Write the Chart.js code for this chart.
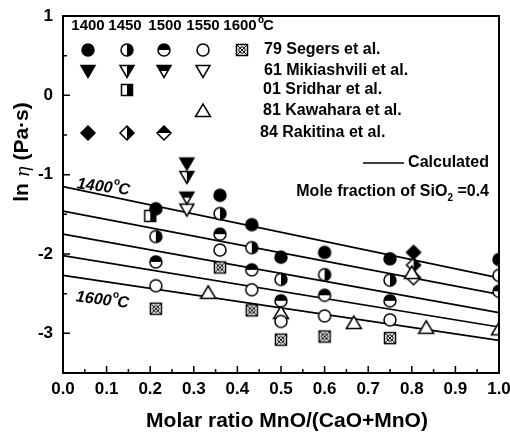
<!DOCTYPE html>
<html>
<head>
<meta charset="utf-8">
<script src="https://cdn.jsdelivr.net/npm/chart.js@4.4.0/dist/chart.umd.min.js"></script>
<style>
html, body { margin: 0; padding: 0; background: #fff; }
#wrap { width: 510px; height: 434px; }
</style>
</head>
<body>
<div id="wrap"><canvas id="c" width="510" height="434"></canvas></div>
<script>
// data (ln viscosity vs MnO/(CaO+MnO))
const segersX = [0.213, 0.36, 0.433, 0.5, 0.6, 0.75, 1.0];
const segers1400 = [-1.43, -1.26, -1.63, -2.04, -1.98, -2.06, -2.07];
const segers1450 = [-1.78, -1.49, -1.92, -2.32, -2.26, -2.33, -2.27];
const segers1500 = [-2.10, -1.75, -2.20, -2.59, -2.52, -2.59, -2.47];
const segersX2 = [0.213, 0.36, 0.433, 0.5, 0.6, 0.75];
const segers1550 = [-2.40, -1.95, -2.45, -2.85, -2.78, -2.83];
const segers1600 = [-2.69, -2.17, -2.71, -3.08, -3.04, -3.06];

const mikiX = [0.284];
const miki1400 = [-0.86];
const miki1450 = [-1.03];
const miki1500 = [-1.29];
const miki1550 = [-1.44];

const sridharX = [0.2];
const sridhar1450 = [-1.52];

const kawaharaX = [0.333, 0.5, 0.667, 0.8, 0.833, 1.0];
const kawahara1550 = [-2.49, -2.745, -2.87, -2.24, -2.93, -2.95];

const rakitinaX = [0.804];
const rakitina1400 = [-1.98];
const rakitina1450 = [-2.14];
const rakitina1500 = [-2.30];

// calculated lines, 1400..1600 C
const calcX = [0, 1];
const calcLines = [
  [-1.15, -2.30],
  [-1.46, -2.51],
  [-1.75, -2.74],
  [-2.02, -2.92],
  [-2.27, -3.09]
];

const yTicks = [1, 0, -1, -2, -3];

const FONT = '"Liberation Sans", Arial, sans-serif';

function marker(shape, fill) {
  const s = 18, m = 9;
  const c = document.createElement('canvas');
  c.width = s; c.height = s;
  const g = c.getContext('2d');
  g.lineWidth = 1.5;
  g.strokeStyle = '#000';
  g.beginPath();
  if (shape === 'circle') g.arc(m, m, 6, 0, Math.PI * 2);
  else if (shape === 'triDown') { g.moveTo(m - 7, m - 5.5); g.lineTo(m + 7, m - 5.5); g.lineTo(m, m + 6.5); g.closePath(); }
  else if (shape === 'triUp') { g.moveTo(m - 7.5, m + 5.5); g.lineTo(m + 7.5, m + 5.5); g.lineTo(m, m - 7); g.closePath(); }
  else if (shape === 'square' || shape === 'xsquare') g.rect(m - 5.5, m - 5.5, 11, 11);
  else if (shape === 'diamond') { g.moveTo(m, m - 7); g.lineTo(m + 7, m); g.lineTo(m, m + 7); g.lineTo(m - 7, m); g.closePath(); }
  g.fillStyle = fill === 'full' ? '#000' : '#fff';
  g.fill();
  if (fill === 'right' || fill === 'top') {
    g.save();
    g.clip();
    g.fillStyle = '#000';
    if (fill === 'right') g.fillRect(m, 0, s, s);
    else g.fillRect(0, 0, s, m);
    g.restore();
  }
  g.stroke();
  if (shape === 'xsquare') {
    g.lineWidth = 1;
    g.beginPath();
    g.moveTo(m - 5.5, m - 5.5); g.lineTo(m + 5.5, m + 5.5);
    g.moveTo(m + 5.5, m - 5.5); g.lineTo(m - 5.5, m + 5.5);
    g.stroke();
    g.beginPath();
    g.arc(m, m, 3.2, 0, Math.PI * 2);
    g.stroke();
  }
  return c;
}

const mk = {
  c1400: marker('circle', 'full'), c1450: marker('circle', 'right'), c1500: marker('circle', 'top'),
  c1550: marker('circle', 'none'), c1600: marker('xsquare', 'none'),
  t1400: marker('triDown', 'full'), t1450: marker('triDown', 'right'), t1500: marker('triDown', 'top'),
  t1550: marker('triDown', 'none'),
  s1450: marker('square', 'right'),
  k1550: marker('triUp', 'none'),
  d1400: marker('diamond', 'full'), d1450: marker('diamond', 'right'), d1500: marker('diamond', 'top')
};

const pts = (xs, ys) => xs.map((x, i) => ({ x: x, y: ys[i] }));

function pointSet(xs, ys, img) {
  return { type: 'scatter', data: pts(xs, ys), pointStyle: img, pointRadius: 7, order: 0 };
}

const datasets = [];
calcLines.forEach(l => {
  datasets.push({
    type: 'line', data: pts(calcX, l), borderColor: '#000', borderWidth: 1.7,
    pointRadius: 0, fill: false, tension: 0, order: 1
  });
});
datasets.push(pointSet(segersX, segers1400, mk.c1400));
datasets.push(pointSet(segersX, segers1450, mk.c1450));
datasets.push(pointSet(segersX, segers1500, mk.c1500));
datasets.push(pointSet(segersX2, segers1550, mk.c1550));
datasets.push(pointSet(segersX2, segers1600, mk.c1600));
datasets.push(pointSet(mikiX, miki1400, mk.t1400));
datasets.push(pointSet(mikiX, miki1450, mk.t1450));
datasets.push(pointSet(mikiX, miki1500, mk.t1500));
datasets.push(pointSet(mikiX, miki1550, mk.t1550));
datasets.push(pointSet(sridharX, sridhar1450, mk.s1450));
datasets.push(pointSet(kawaharaX, kawahara1550, mk.k1550));
datasets.push(pointSet(rakitinaX, rakitina1400, mk.d1400));
datasets.push(pointSet(rakitinaX, rakitina1450, mk.d1450));
datasets.push(pointSet(rakitinaX, rakitina1500, mk.d1500));

// frame, inward ticks, legend and titles
const decor = {
  id: 'decor',
  afterDraw(chart) {
    const ctx = chart.ctx;
    const { left, right, top, bottom } = chart.chartArea;
    const xs = chart.scales.x, ys = chart.scales.y;
    ctx.save();
    ctx.strokeStyle = '#000';
    ctx.lineWidth = 2;
    ctx.strokeRect(left, top, right - left, bottom - top);

    ctx.lineWidth = 1.5;
    ctx.beginPath();
    for (let i = 0; i <= 20; i++) {
      const px = xs.getPixelForValue(i * 0.05);
      const len = i % 2 === 0 ? 7 : 4;
      ctx.moveTo(px, bottom); ctx.lineTo(px, bottom - len);
    }
    for (let i = 0; i <= 9; i++) {
      const v = 1 - i * 0.5;
      const py = ys.getPixelForValue(v);
      const len = Number.isInteger(v) ? 7 : 4;
      ctx.moveTo(left, py); ctx.lineTo(left + len, py);
    }
    ctx.stroke();

    ctx.fillStyle = '#000';
    // header of temperatures
    ctx.font = 'bold 15px ' + FONT;
    ctx.textAlign = 'center';
    ctx.textBaseline = 'middle';
    const cols = [88, 125, 165, 203, 240];
    ['1400', '1450', '1500', '1550', '1600'].forEach((t, i) => ctx.fillText(t, cols[i], 26));
    ctx.textAlign = 'left';
    ctx.font = 'bold 10px ' + FONT;
    ctx.fillText('o', 258, 20);
    ctx.font = 'bold 15px ' + FONT;
    ctx.fillText('C', 263, 26);

    const mcols = [88, 127, 164, 203, 242];
    const rows = [
      { y: 50, marks: [mk.c1400, mk.c1450, mk.c1500, mk.c1550, mk.c1600], text: '79 Segers et al.', tx: 264 },
      { y: 71, marks: [mk.t1400, mk.t1450, mk.t1500, mk.t1550, null], text: '61 Mikiashvili et al.', tx: 264 },
      { y: 90, marks: [null, mk.s1450, null, null, null], text: '01 Sridhar et al.', tx: 263 },
      { y: 111, marks: [null, null, null, mk.k1550, null], text: '81 Kawahara et al.', tx: 263 },
      { y: 133, marks: [mk.d1400, mk.d1450, mk.d1500, null, null], text: '84 Rakitina et al.', tx: 260 }
    ];
    ctx.font = 'bold 16px ' + FONT;
    rows.forEach(r => {
      r.marks.forEach((m, i) => { if (m) ctx.drawImage(m, mcols[i] - 9, r.y - 9); });
      ctx.fillText(r.text, r.tx, r.y);
    });

    // calculated line key
    ctx.lineWidth = 1.7;
    ctx.beginPath(); ctx.moveTo(363, 163); ctx.lineTo(404, 163); ctx.stroke();
    ctx.textAlign = 'right';
    ctx.fillText('Calculated', 489, 163);

    // mole fraction note with subscript
    const a = 'Mole fraction of SiO', b = ' =0.4';
    ctx.font = 'bold 16px ' + FONT;
    const wa = ctx.measureText(a).width, wb = ctx.measureText(b).width;
    ctx.font = 'bold 10px ' + FONT;
    const ws = ctx.measureText('2').width;
    let x0 = 489 - wa - wb - ws;
    ctx.textAlign = 'left';
    ctx.font = 'bold 16px ' + FONT;
    ctx.fillText(a, x0, 192);
    ctx.font = 'bold 10px ' + FONT;
    ctx.fillText('2', x0 + wa, 198);
    ctx.font = 'bold 16px ' + FONT;
    ctx.fillText(b, x0 + wa + ws, 192);

    // temperature labels on the lines
    [['1400', 77, 184], ['1600', 76, 297]].forEach(([t, x, y]) => {
      ctx.save();
      ctx.translate(x, y);
      ctx.rotate(7 * Math.PI / 180);
      ctx.font = 'italic bold 16px ' + FONT;
      ctx.textAlign = 'left';
      ctx.fillText(t, 0, 0);
      const w = ctx.measureText(t).width;
      ctx.font = 'bold 10px ' + FONT;
      ctx.fillText('o', w + 1, -7);
      ctx.font = 'italic bold 16px ' + FONT;
      ctx.fillText('C', w + 6, 0);
      ctx.restore();
    });

    // axis titles
    ctx.font = 'bold 21px ' + FONT;
    ctx.textAlign = 'center';
    ctx.fillText('Molar ratio MnO/(CaO+MnO)', 287, 421);

    ctx.save();
    ctx.translate(22, 152);
    ctx.rotate(-Math.PI / 2);
    const p1 = 'ln ', p3 = ' (Pa\u00b7s)';
    ctx.font = 'bold 21px ' + FONT;
    const w1 = ctx.measureText(p1).width, w3 = ctx.measureText(p3).width;
    ctx.font = 'italic 18px "DejaVu Serif", serif';
    const w2 = ctx.measureText('\u03b7').width;
    let sx = -(w1 + w2 + w3) / 2;
    ctx.textAlign = 'left';
    ctx.font = 'bold 21px ' + FONT;
    ctx.fillText(p1, sx, 0);
    ctx.font = 'italic 18px "DejaVu Serif", serif';
    ctx.fillText('\u03b7', sx + w1, 2);
    ctx.font = 'bold 21px ' + FONT;
    ctx.fillText(p3, sx + w1 + w2, 0);
    ctx.restore();

    ctx.restore();
  }
};

new Chart(document.getElementById('c'), {
  type: 'scatter',
  data: { datasets: datasets },
  options: {
    responsive: false,
    animation: false,
    devicePixelRatio: 1,
    layout: { padding: { top: 16, right: 11, left: 0, bottom: 0 } },
    plugins: { legend: { display: false }, tooltip: { enabled: false } },
    scales: {
      x: {
        type: 'linear', min: 0, max: 1,
        grid: { display: false, drawTicks: false },
        border: { display: false },
        ticks: {
          stepSize: 0.1, padding: 6, color: '#000',
          font: { family: FONT, size: 17, weight: 'bold' },
          maxRotation: 0,
          callback: v => v.toFixed(1)
        },
        afterFit: s => { s.height = 61; s.paddingLeft = 0; s.paddingRight = 0; }
      },
      y: {
        type: 'linear', min: -3.5, max: 1,
        grid: { display: false, drawTicks: false },
        border: { display: false },
        ticks: {
          stepSize: 0.5, padding: 10, color: '#000',
          font: { family: FONT, size: 17, weight: 'bold' },
          callback: v => yTicks.includes(v) ? String(v) : ''
        },
        afterFit: s => { s.width = 63; s.paddingTop = 0; s.paddingBottom = 0; }
      }
    }
  },
  plugins: [decor]
});
</script>
</body>
</html>
